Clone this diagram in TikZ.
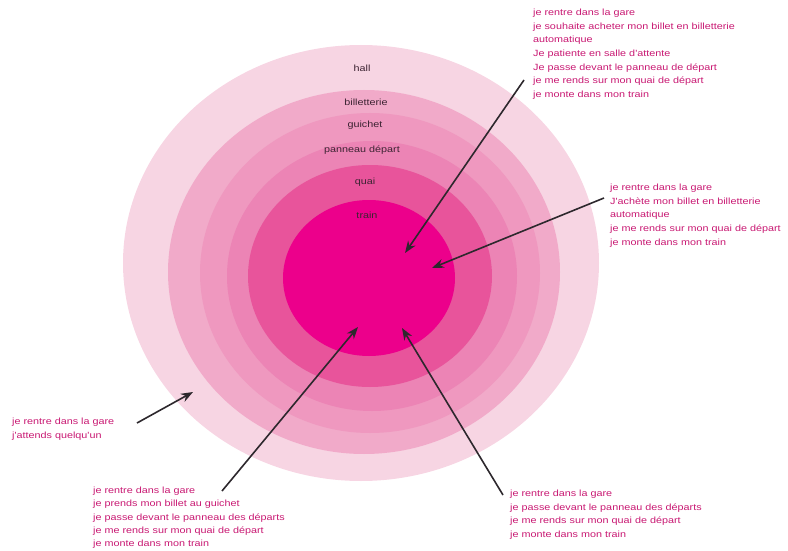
\documentclass[tikz,border=0pt]{standalone}
\usepackage{fontspec}
\setmainfont{Liberation Sans}
\newfontfamily\gareFont[FakeStretch=1.2]{Liberation Sans}
\usepackage{tikz}
\usetikzlibrary{arrows.meta}
\usetikzlibrary{positioning}
\usetikzlibrary{shapes.geometric}

\definecolor{hallC}{RGB}{247,213,227}
\definecolor{billetC}{RGB}{241,170,201}
\definecolor{guichetC}{RGB}{239,152,191}
\definecolor{panneauC}{RGB}{236,132,181}
\definecolor{quaiC}{RGB}{232,84,155}
\definecolor{trainC}{RGB}{236,0,139}
\definecolor{labelC}{RGB}{60,35,50}
\definecolor{parcoursC}{RGB}{200,24,114}
\definecolor{flecheC}{RGB}{45,40,45}

\tikzset{
  zone/.style={ellipse, inner sep=0pt, draw=none},
  zonelabel/.style={font=\gareFont\fontsize{9}{11}\selectfont, text=labelC, inner sep=0pt},
  parcours/.style={font=\gareFont\fontsize{9}{13.6}\selectfont, text=parcoursC,
    align=left, anchor=north west, inner sep=0pt},
  fleche/.style={draw=flecheC, line width=1.6pt, -{Stealth[length=12pt,width=9pt]}}
}

\begin{document}
\begin{tikzpicture}[x=1pt,y=-1pt]
    \useasboundingbox (0,0) rectangle (788,551);

    % les zones de la gare
    \node[zone, fill=hallC, minimum width=476pt, minimum height=436pt] (hall) at (361,263) {};
    \node[zone, fill=billetC, minimum width=392pt, minimum height=364pt] (billet) at (364,272) {};
    \node[zone, fill=guichetC, minimum width=340pt, minimum height=320pt] (guichet) at (370,273) {};
    \node[zone, fill=panneauC, minimum width=290pt, minimum height=270pt] (panneau) at (372,276) {};
    \node[zone, fill=quaiC, minimum width=244pt, minimum height=222pt] (quai) at (370,276) {};
    \node[zone, fill=trainC, minimum width=172pt, minimum height=156pt] (train) at (369,278) {};

    \node[zonelabel] (Lhall) at (362,68) {hall};
    \node[zonelabel] (Lbillet) at (366,102) {billetterie};
    \node[zonelabel] (Lguichet) at (365,125) {guichet};
    \node[zonelabel] (Lpanneau) at (362,150) {panneau départ};
    \node[zonelabel] (Lquai) at (365,182) {quai};
    \node[zonelabel] (Ltrain) at (367,215) {train};

    % les parcours
    \node[parcours] (P1) at (533,9) {je rentre dans la gare\\
      je souhaite acheter mon billet en billetterie\\
      automatique\\
      Je patiente en salle d'attente\\
      Je passe devant le panneau de départ\\
      je me rends sur mon quai de départ\\
      je monte dans mon train};
    \node[parcours] (P2) at (610,184) {je rentre dans la gare\\
      J'achète mon billet en billetterie\\
      automatique\\
      je me rends sur mon quai de départ\\
      je monte dans mon train};
    \node[parcours] (P3) at (12,418) {je rentre dans la gare\\
      j'attends quelqu'un};
    \node[parcours, font=\gareFont\fontsize{9}{13.2}\selectfont] (P4) at (93,487) {je rentre dans la gare\\
      je prends mon billet au guichet\\
      je passe devant le panneau des départs\\
      je me rends sur mon quai de départ\\
      je monte dans mon train};
    \node[parcours] (P5) at (510,490) {je rentre dans la gare\\
      je passe devant le panneau des départs\\
      je me rends sur mon quai de départ\\
      je monte dans mon train};

    % fleches
    \coordinate (S1) at (524,80);   \coordinate (T1) at (405,253);
    \coordinate (S2) at (604,198);  \coordinate (T2) at (432,268);
    \coordinate (S3) at (137,423);  \coordinate (T3) at (193,392);
    \coordinate (S4) at (222,491);  \coordinate (T4) at (358,327);
    \coordinate (S5) at (503,495);  \coordinate (T5) at (402,328);
    \draw[fleche] (S1) -- (T1);
    \draw[fleche] (S2) -- (T2);
    \draw[fleche] (S3) -- (T3);
    \draw[fleche] (S4) -- (T4);
    \draw[fleche] (S5) -- (T5);
\end{tikzpicture}
\end{document}
